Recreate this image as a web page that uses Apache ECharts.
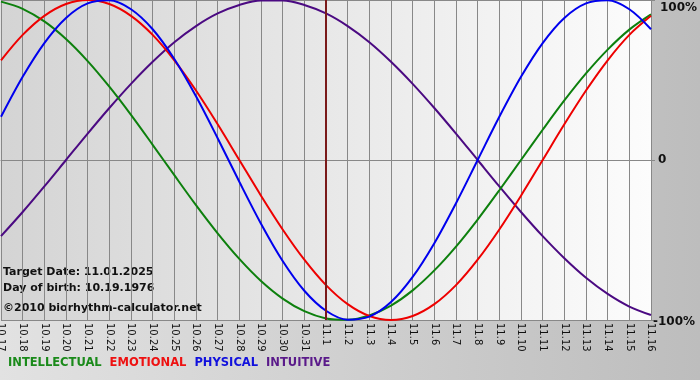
<!DOCTYPE html>
<html>
<head>
<meta charset="utf-8">
<script src="https://cdn.jsdelivr.net/npm/echarts@6/dist/echarts.min.js"></script>
<style>html,body{margin:0;padding:0;}#c{width:700px;height:380px;}</style>
</head>
<body>
<div id="c"></div>
<script>
var dates = ['10.17','10.18','10.19','10.20','10.21','10.22','10.23','10.24','10.25','10.26','10.27','10.28','10.29','10.30','10.31','11.1','11.2','11.3','11.4','11.5','11.6','11.7','11.8','11.9','11.10','11.11','11.12','11.13','11.14','11.15','11.16'];
var intellectual = [99.0,94.5,86.6,75.6,61.8,45.8,28.2,9.5,-9.5,-28.2,-45.8,-61.8,-75.6,-86.6,-94.5,-99.0,-99.9,-97.2,-91.0,-81.5,-69.0,-54.1,-37.2,-18.9,0,18.9,37.2,54.1,69.0,81.5,91.0];
var emotional = [62.3,78.2,90.1,97.5,100,97.5,90.1,78.2,62.3,43.4,22.3,0,-22.3,-43.4,-62.3,-78.2,-90.1,-97.5,-100,-97.5,-90.1,-78.2,-62.3,-43.4,-22.3,0,22.3,43.4,62.3,78.2,90.1];
var physical = [27.0,52.0,73.1,88.8,97.9,99.8,94.2,81.7,63.1,39.8,13.6,-13.6,-39.8,-63.1,-81.7,-94.2,-99.8,-97.9,-88.8,-73.1,-52.0,-27.0,0,27.0,52.0,73.1,88.8,97.9,99.8,94.2,81.7];
var intuitive = [-47.6,-32.5,-16.5,0,16.5,32.5,47.6,61.4,73.6,83.7,91.6,96.9,99.7,99.7,96.9,91.6,83.7,73.6,61.4,47.6,32.5,16.5,0,-16.5,-32.5,-47.6,-61.4,-73.6,-83.7,-91.6,-96.9];
var targetDate = '11.1';
var yTicks = {'100':'100%','0':'0','-100':'-100%'};

var chart = echarts.init(document.getElementById('c'));
function ser(name, data, color, extra) {
  var s = {name: name, type: 'line', data: data, smooth: 0.33, symbol: 'none', clip: false,
    lineStyle: {color: color, width: 2}, itemStyle: {color: color}};
  if (extra) Object.assign(s, extra);
  return s;
}
var option = {
  animation: false,
  backgroundColor: new echarts.graphic.LinearGradient(0,0,1,0,[{offset:0,color:'#e2e2e2'},{offset:1,color:'#bdbdbd'}]),
  grid: {left: 1, right: 49, top: 0, bottom: 60, show: true, borderWidth: 0, outerBoundsMode: 'none', containLabel: false,
    backgroundColor: new echarts.graphic.LinearGradient(0,0,1,0,[{offset:0,color:'#d4d4d4'},{offset:1,color:'#fcfcfc'}])},
  legend: {bottom: 6, left: -2, icon: 'rect', itemWidth: 0, itemHeight: 0, itemGap: 3,
    textStyle: {fontFamily: 'DejaVu Sans', fontWeight: 'bold', fontSize: 11.5, padding: [0,0,0,0]},
    data: [
      {name: 'INTELLECTUAL', textStyle: {color: '#1a8a1a'}},
      {name: 'EMOTIONAL', textStyle: {color: '#ee1111'}},
      {name: 'PHYSICAL', textStyle: {color: '#1111dd'}},
      {name: 'INTUITIVE', textStyle: {color: '#5a1a8a'}}
    ]},
  xAxis: {type: 'category', data: dates, boundaryGap: false,
    axisLine: {lineStyle: {color: '#888', width: 1}},
    axisTick: {show: true, length: 4, interval: 0, alignWithLabel: true, lineStyle: {color: '#888'}},
    splitLine: {show: true, interval: 0, lineStyle: {color: '#888', width: 1}},
    axisLabel: {interval: 0, rotate: -90, fontFamily: 'DejaVu Sans', fontSize: 10, color: '#111', margin: 3}},
  yAxis: {type: 'value', position: 'right', min: -100, max: 100, interval: 100,
    axisLine: {show: true, lineStyle: {color: '#888'}},
    axisTick: {show: true, length: 4, lineStyle: {color: '#888'}},
    splitLine: {show: true, lineStyle: {color: '#888', width: 1}},
    axisLabel: {margin: 2, fontFamily: 'DejaVu Sans', fontWeight: 'bold', fontSize: 12, color: '#111',
      formatter: function (v) {
        var t = yTicks[String(v)];
        if (v === 100) return '{a|' + t + '}';
        if (v === 0) return '{b|' + t + '}';
        return '{c|' + t + '}';
      },
      rich: {
        a: {padding: [16,0,0,7], fontFamily: 'DejaVu Sans', fontWeight: 'bold', fontSize: 12, color: '#111'},
        b: {padding: [0,0,0,5], fontFamily: 'DejaVu Sans', fontWeight: 'bold', fontSize: 12, color: '#111'},
        c: {padding: [4,0,0,0], fontFamily: 'DejaVu Sans', fontWeight: 'bold', fontSize: 12, color: '#111'}
      }}},
  graphic: [
    {type: 'text', left: 3, top: 267, style: {text: 'Target Date: 11.01.2025', fontFamily: 'DejaVu Sans', fontWeight: 'bold', fontSize: 11, fill: '#111'}},
    {type: 'text', left: 3, top: 283, style: {text: 'Day of birth: 10.19.1976', fontFamily: 'DejaVu Sans', fontWeight: 'bold', fontSize: 11, fill: '#111'}},
    {type: 'text', left: 3, top: 303, style: {text: '\u00a92010 biorhythm-calculator.net', fontFamily: 'DejaVu Sans', fontWeight: 'bold', fontSize: 11, fill: '#111'}}
  ],
  series: [
    ser('INTUITIVE', intuitive, '#4b0a82', {markLine: {silent: true, symbol: 'none', label: {show: false},
      lineStyle: {color: '#7a1a1a', width: 2, type: 'solid'}, data: [{xAxis: targetDate}]}}),
    ser('INTELLECTUAL', intellectual, '#0d800d'),
    ser('EMOTIONAL', emotional, '#ee0000'),
    ser('PHYSICAL', physical, '#0000ee')
  ]
};
chart.setOption(option);
</script>
</body>
</html>
